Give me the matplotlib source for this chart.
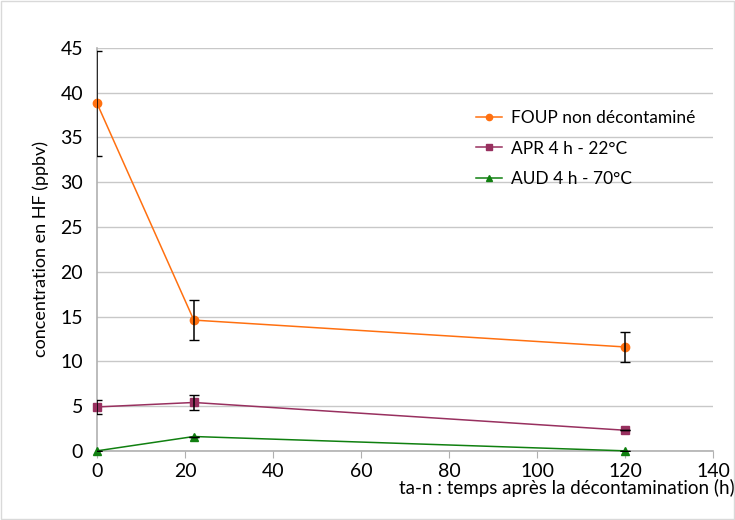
import numpy as np
import matplotlib.pyplot as plt

plt.rcParams['font.family'] = ['Lato', 'DejaVu Sans']

# data
hours = [0, 22, 120]
foup = [38.8, 14.6, 11.6]
foup_err = [5.9, 2.2, 1.7]
apr = [4.9, 5.4, 2.3]
apr_err = [0.75, 0.8, 0.0]
aud = [0.0, 1.6, 0.0]
aud_err = [0.0, 0.0, 0.0]

fig = plt.figure(figsize=(7.35, 5.2), dpi=100)
ax = fig.add_axes([0.132, 0.133, 0.838, 0.775])

# light border around the whole figure
fig.patches.append(plt.Rectangle((0.002, 0.002), 0.996, 0.996, transform=fig.transFigure,
                                 fill=False, edgecolor='#d9d9d9', linewidth=1))

series = [
    (foup, foup_err, '#ff7010', 'o', 'FOUP non décontaminé', 6),
    (apr, apr_err, '#98305f', 's', 'APR 4 h - 22°C', 6),
    (aud, aud_err, '#108010', '^', 'AUD 4 h - 70°C', 6),
]
for vals, err, col, mk, lab, ms in series:
    ax.plot(hours, vals, color=col, marker=mk, markersize=ms, linewidth=1.1, label=lab, zorder=3,
            clip_on=False)
    ax.errorbar(hours, vals, yerr=err, fmt='none', ecolor='black', elinewidth=1.1,
                capsize=3.5, capthick=1, zorder=4)

ax.set_xlim(0, 140)
ax.set_ylim(0, 45)
ax.set_xticks(np.arange(0, 141, 20))
ax.set_yticks(np.arange(0, 46, 5))
ax.grid(axis='y', color='#c8c8c8', linewidth=1)
ax.set_axisbelow(True)
for s in ['top', 'right']:
    ax.spines[s].set_visible(False)
for s in ['left', 'bottom']:
    ax.spines[s].set_color('#b0b0b0')
    ax.spines[s].set_linewidth(1.2)
ax.tick_params(axis='y', length=0, labelsize=14, pad=10)
ax.tick_params(axis='x', length=5, color='#b0b0b0', labelsize=14, pad=4)

ax.set_ylabel('concentration en HF (ppbv)', fontsize=13, labelpad=8)
ax.set_xlabel('ta-n : temps après la décontamination (h)', fontsize=13.5, ha='right')
ax.xaxis.set_label_coords(1.035, -0.07)

leg = ax.legend(loc='upper left', bbox_to_anchor=(0.59, 0.885), frameon=False, fontsize=12.5,
                handlelength=1.5, labelspacing=0.85, markerscale=0.75, handletextpad=0.5)

fig.savefig('out.png', dpi=100)
